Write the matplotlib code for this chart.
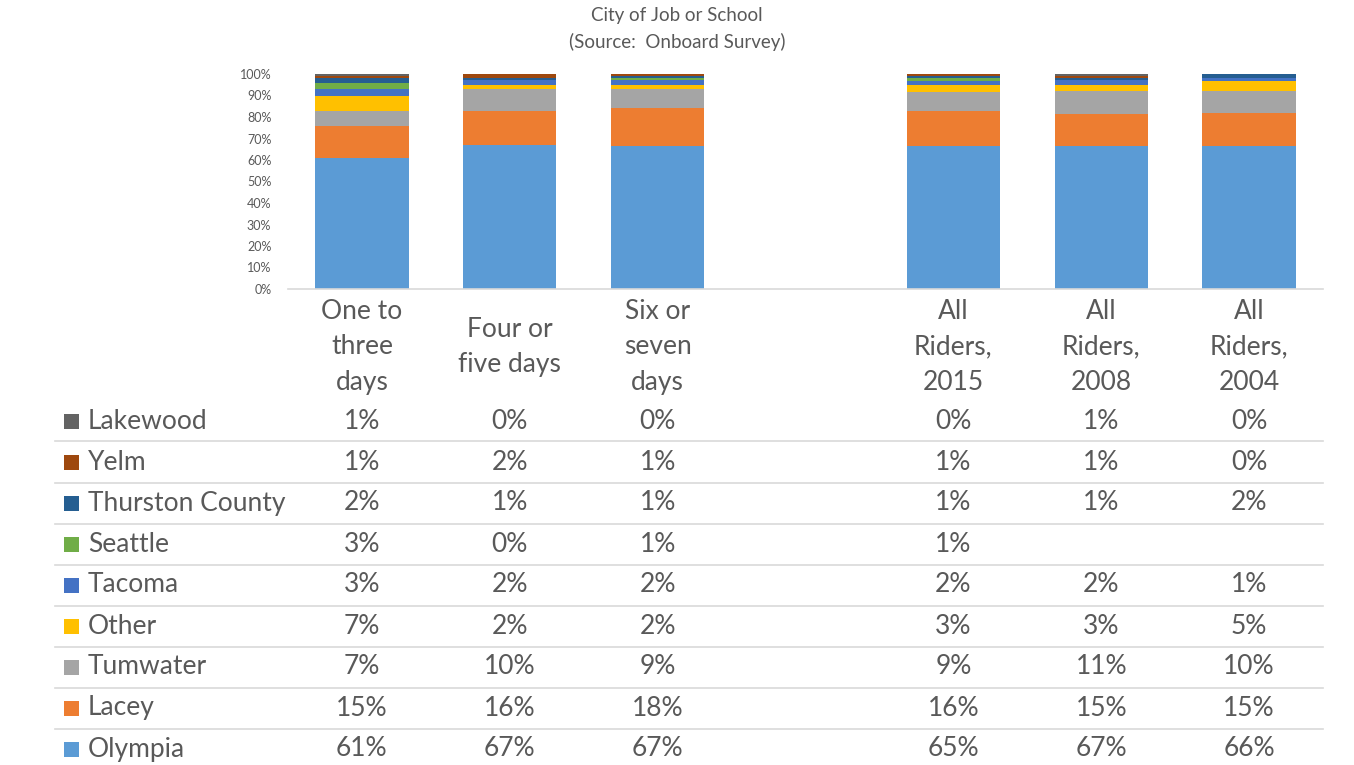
import numpy as np
import matplotlib
matplotlib.use("Agg")
import matplotlib.pyplot as plt
from matplotlib.lines import Line2D
from matplotlib.patches import Rectangle

plt.rcParams['font.family'] = ['Lato', 'DejaVu Sans']

# ---------------- data ----------------
categories = ["One to\nthree\ndays", "Four or\nfive days", "Six or\nseven\ndays",
              "All\nRiders,\n2015", "All\nRiders,\n2008", "All\nRiders,\n2004"]
cat_slots = [0, 1, 2, 4, 5, 6]   # slot 3 is an empty spacer column

# series from bottom of stack to top
series = ["Olympia", "Lacey", "Tumwater", "Other", "Tacoma", "Seattle",
          "Thurston County", "Yelm", "Lakewood"]
olympia   = [61, 67, 67, 65, 67, 66]
lacey     = [15, 16, 18, 16, 15, 15]
tumwater  = [7, 10, 9, 9, 11, 10]
other     = [7, 2, 2, 3, 3, 5]
tacoma    = [3, 2, 2, 2, 2, 1]
seattle   = [3, 0, 1, 1, None, None]
thurston  = [2, 1, 1, 1, 1, 2]
yelm      = [1, 2, 1, 1, 1, 0]
lakewood  = [1, 0, 0, 0, 1, 0]
values = [olympia, lacey, tumwater, other, tacoma, seattle, thurston, yelm, lakewood]

colors = ["#5B9BD5", "#ED7D31", "#A5A5A5", "#FFC000", "#4472C4",
          "#70AD47", "#255E91", "#9E480E", "#636363"]

TXT = "#595959"
GRID = "#D9D9D9"

W, H = 1354, 765
fig = plt.figure(figsize=(W / 100, H / 100), dpi=100)

# plot area in pixel coordinates
x0, x1 = 288, 1323
y0, y1 = 289, 74
ax = fig.add_axes([x0 / W, 1 - y0 / H, (x1 - x0) / W, (y0 - y1) / H])

arr = np.array([[np.nan if v is None else v for v in s] for s in values], dtype=float)
arr0 = np.nan_to_num(arr)
totals = arr0.sum(axis=0)
frac = arr0 / totals
bottom = np.zeros(len(categories))
for i, name in enumerate(series):
    ax.bar(cat_slots, frac[i], bottom=bottom, width=0.63, color=colors[i],
           linewidth=0, zorder=2)
    bottom += frac[i]

ax.set_xlim(-0.5, 6.5)
ax.set_ylim(0, 1)
ax.set_yticks(np.arange(0, 1.01, 0.1))
ax.set_yticklabels([f"{int(round(t*100))}%" for t in np.arange(0, 1.01, 0.1)],
                   fontsize=9, color=TXT)
ax.tick_params(axis='y', length=0, pad=12)
ax.set_xticks([])
for s in ["top", "right", "left"]:
    ax.spines[s].set_visible(False)
ax.spines["bottom"].set_color(GRID)
ax.spines["bottom"].set_linewidth(1.2)

# helper: slot -> figure fraction
def fx(slot):
    return (x0 + (slot + 0.5) / 7 * (x1 - x0)) / W

def fy(py):
    return 1 - py / H

# title
fig.text(0.5, fy(16), "City of Job or School", ha="center", va="center",
         fontsize=13.5, color=TXT)
fig.text(0.5, fy(42), "(Source:  Onboard Survey)", ha="center", va="center",
         fontsize=13.5, color=TXT)

# category labels
FS = 19
for slot, lab in zip(cat_slots, categories):
    fig.text(fx(slot), fy(347), lab, ha="center", va="center", fontsize=FS,
             color=TXT, linespacing=1.53, multialignment="center")

# data table rows, top row is the last series
row_y0 = 421
row_h = 41
for r, i in enumerate(range(len(series) - 1, -1, -1)):
    yc = row_y0 + r * row_h
    fig.patches.append(Rectangle((64 / W, fy(yc + 8)), 15 / W, 15 / H,
                                 transform=fig.transFigure, facecolor=colors[i],
                                 edgecolor="none"))
    fig.text(88 / W, fy(yc), series[i], ha="left", va="center", fontsize=FS,
             color=TXT)
    for slot, v in zip(cat_slots, values[i]):
        if v is None:
            continue
        fig.text(fx(slot), fy(yc), f"{v}%", ha="center", va="center",
                 fontsize=FS, color=TXT)
    if r > 0:
        ly = fy(yc - row_h / 2)
        fig.add_artist(Line2D([55 / W, x1 / W], [ly, ly], color=GRID,
                              linewidth=1.2, transform=fig.transFigure))

fig.savefig("out.png", dpi=100)
